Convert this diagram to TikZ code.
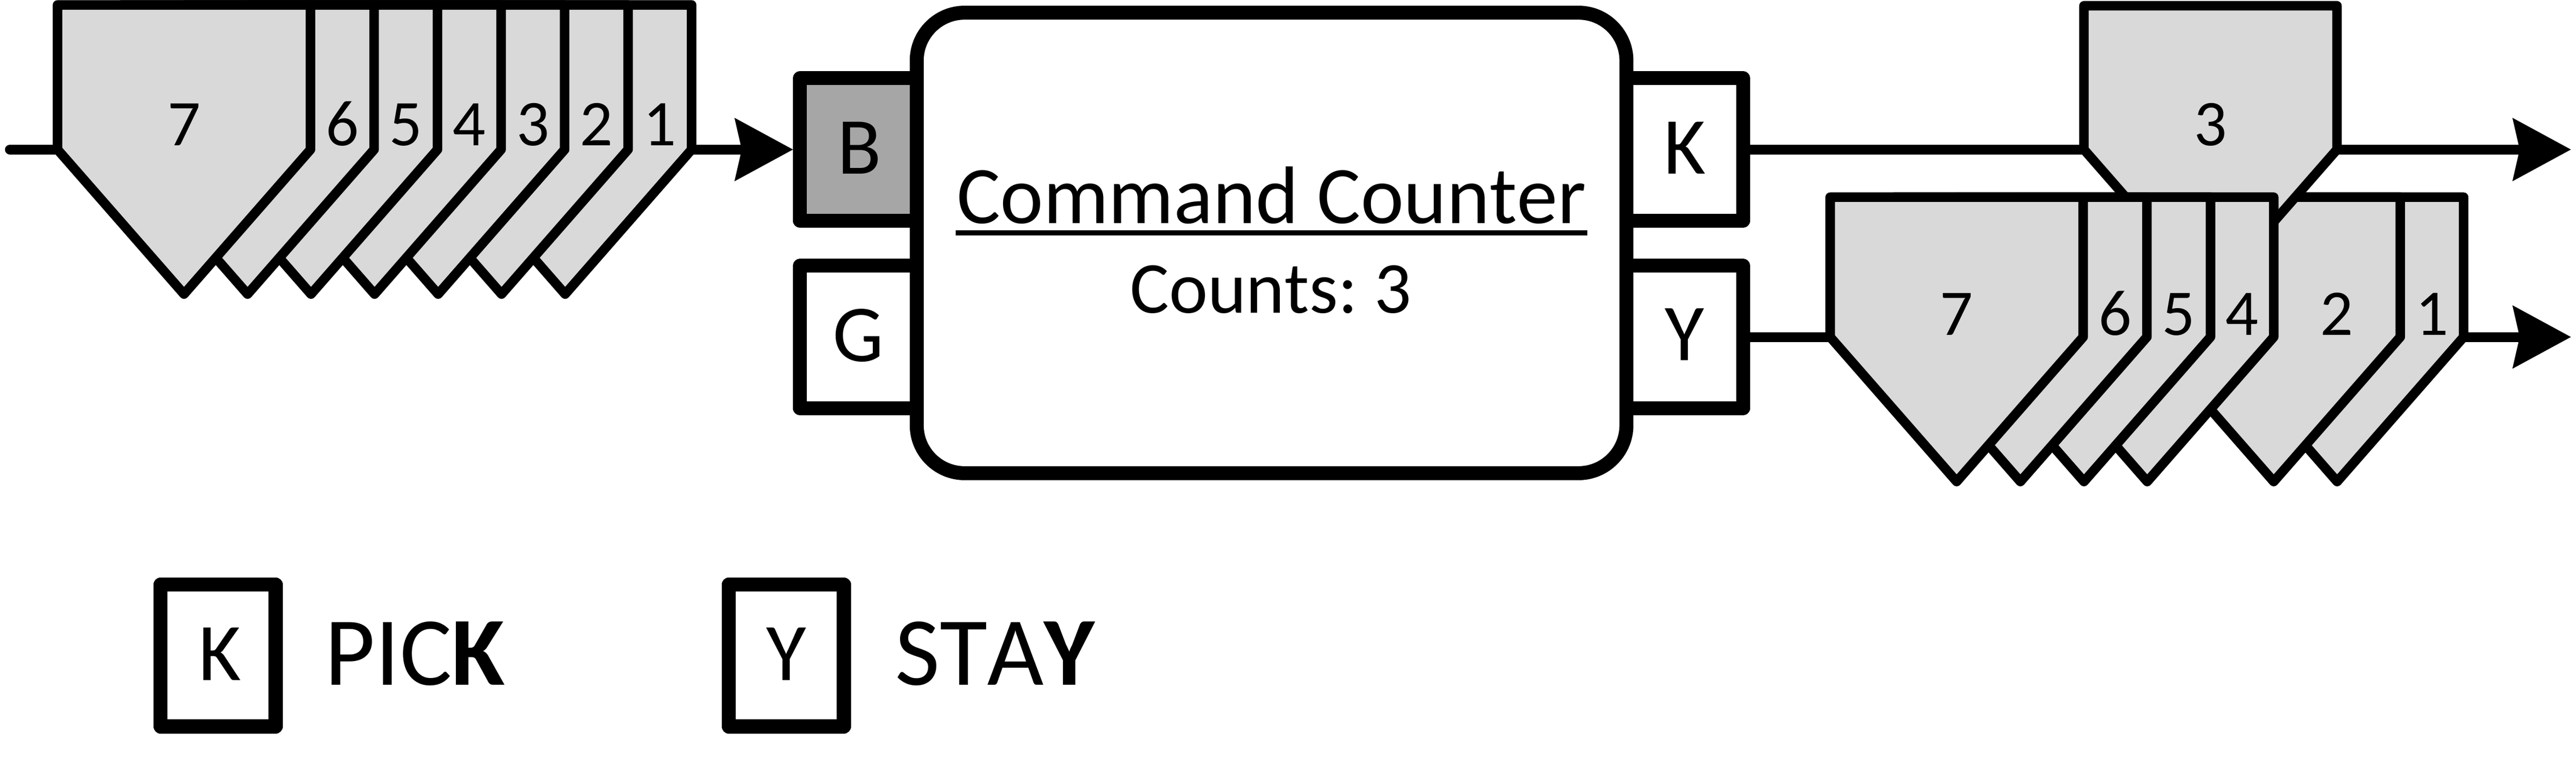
\documentclass[tikz,border=0pt]{standalone}
\usepackage{fontspec}
\setmainfont{Carlito}[Kerning=Off]
\usetikzlibrary{arrows.meta,calc}
\definecolor{cardgray}{HTML}{D9D9D9}
\definecolor{bgray}{HTML}{A6A6A6}
\newcommand\drawcard[3]{%
  \path[cardstyle] (#1-154,#3) -- (#1,#3) -- (#1,#2) -- (#1-77,#2+88) -- (#1-154,#2) -- cycle;}
\frenchspacing
\begin{document}
\begin{tikzpicture}[x=0.1mm,y=-0.1mm,
  cardstyle/.style={fill=cardgray,draw=black,line width=1.65pt,line join=round},
  conn/.style={line width=1.7pt},
  arr/.style={conn,-{Stealth[length=10pt,width=10.6pt,inset=1.1pt]}},
  portbox/.style={draw,line width=2.4pt,line join=round,inner sep=0pt},
  mainbox/.style={draw,fill=white,line width=2.42pt,rounded corners=8.3pt,inner sep=0pt},
  lbl/.style={inner sep=0pt,anchor=base},
  digit/.style={lbl,font=\fontsize{11.3}{13}\selectfont},
  portlbl/.style={lbl,font=\fontsize{14}{16}\selectfont},
  titlefont/.style={lbl,font=\fontsize{14.15}{16}\selectfont},
  countfont/.style={lbl,font=\fontsize{12.7}{14}\selectfont},
  legbox/.style={draw,fill=white,line width=2.45pt,line join=round,inner sep=0pt,minimum width=7.01mm,minimum height=8.63mm},
  legtext/.style={inner sep=0pt,anchor=base west,font=\fontsize{16.9}{19}\selectfont},
  leglbl/.style={lbl,font=\fontsize{14.2}{16}\selectfont}]
\useasboundingbox (0,0) rectangle (1568,463);

% port boxes
\node[portbox,fill=bgray,minimum width=10.3mm,minimum height=8.68mm] (B) at (538.5,91) {};
\node[portbox,fill=white,minimum width=10.3mm,minimum height=8.68mm] (G) at (538.5,205.1) {};
\node[portbox,fill=white,minimum width=10.3mm,minimum height=8.68mm] (K) at (1009.5,91) {};
\node[portbox,fill=white,minimum width=10.3mm,minimum height=8.68mm] (Y) at (1009.5,205.1) {};
% main box
\node[mainbox,minimum width=43.2mm,minimum height=28.03mm] (main) at (774,147.85) {};
\node[portlbl] (lB) at (523,105.8) {B};
\node[portlbl] (lG) at (522.5,220) {G};
\node[portlbl] (lK) at (1025.5,105.8) {K};
\node[portlbl] (lY) at (1025.5,219.5) {Y};
\node[titlefont] (title) at (774,135.9) {Command Counter};
\draw[line width=0.88pt] ($(title.base west)+(0,5.7)$) -- ($(title.base east)+(0,5.7)$);
\node[countfont] (counts) at (773.5,190.6) {Counts: 3};

% connectors
\coordinate (inA) at (6,91);
\coordinate (kend) at (1565,91);
\coordinate (yend) at (1565,205.1);
\draw[arr,line cap=round] (inA) -- (B.west);
\draw[arr] (K.east) -- (kend);
\draw[arr] (Y.east) -- (yend);

% left stack (1 at back, 7 in front)
\drawcard{421}{91}{3}
\drawcard{382.3}{91}{3}
\drawcard{343.7}{91}{3}
\drawcard{305}{91}{3}
\drawcard{266.3}{91}{3}
\drawcard{227.7}{91}{3}
\drawcard{189}{91}{3}
\node[digit] (a7) at (112,88.5) {7};
\node[digit] (a6) at (208.3,88.5) {6};
\node[digit] (a5) at (247,88.5) {5};
\node[digit] (a4) at (285.6,88.5) {4};
\node[digit] (a3) at (324.3,88.5) {3};
\node[digit] (a2) at (363,88.5) {2};
\node[digit] (a1) at (401.6,88.5) {1};

% right stacks
\drawcard{1499.6}{205.1}{120}
\drawcard{1461}{205.1}{120}
\drawcard{1422.5}{91}{3.5}
\drawcard{1384}{205.1}{120}
\drawcard{1345.5}{205.1}{120}
\drawcard{1306.8}{205.1}{120}
\drawcard{1268}{205.1}{120}
\node[digit] (b3) at (1345.5,88.5) {3};
\node[digit] (b7) at (1191,204) {7};
\node[digit] (b6) at (1287.4,204) {6};
\node[digit] (b5) at (1326,204) {5};
\node[digit] (b4) at (1364.8,204) {4};
\node[digit] (b2) at (1422.5,204) {2};
\node[digit] (b1) at (1480.3,204) {1};

% legend
\node[legbox] (legK) at (132.75,398.95) {};
\node[leglbl] (legKl) at (134,414) {K};
\node[legtext] (pick) at (197,417) {PIC\textbf{K}};
\node[legbox] (legY) at (478.6,398.95) {};
\node[leglbl] (legYl) at (478.6,414) {Y};
\node[legtext] (stay) at (544.2,417) {STA\textbf{Y}};
\end{tikzpicture}
\end{document}
